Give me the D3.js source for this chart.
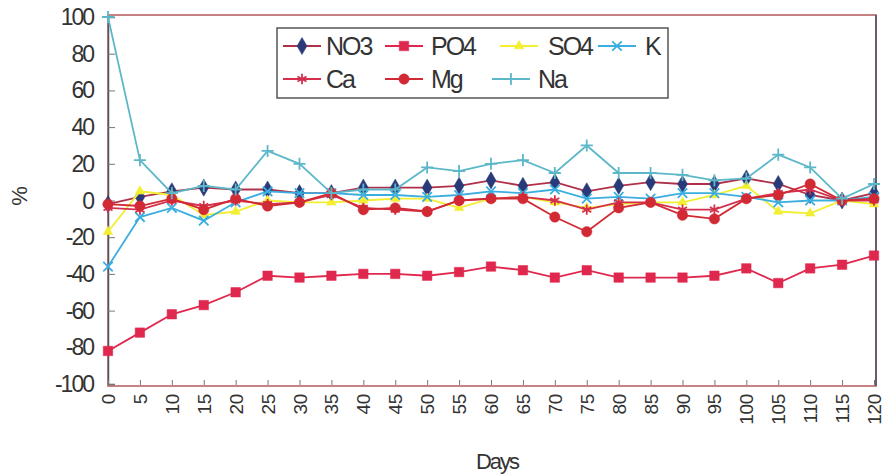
<!DOCTYPE html>
<html>
<head>
<meta charset="utf-8">
<script src="https://cdn.jsdelivr.net/npm/d3@7"></script>
<style>
  body { margin: 0; background: #fff; }
  text { font-family: "Liberation Sans", Arial, sans-serif; fill: #333; }
</style>
</head>
<body>
<svg id="chart" width="885" height="475"></svg>
<script>
// days on the x axis
const days = [0,5,10,15,20,25,30,35,40,45,50,55,60,65,70,75,80,85,90,95,100,105,110,115,120];
const yTicks = [100,80,60,40,20,0,-20,-40,-60,-80,-100];

// series, % change
const no3 = [-2,2,5,7,6,6,4,4,7,7,7,8,11,8,10,5,8,10,9,9,12,9,3,0,4];
const po4 = [-82,-72,-62,-57,-50,-41,-42,-41,-40,-40,-41,-39,-36,-38,-42,-38,-42,-42,-42,-41,-37,-45,-37,-35,-30];
const so4 = [-17,5,3,-8,-6,0,-1,-1,0,1,1,-4,1,2,-1,-4,-2,-1,-1,3,8,-6,-7,0,-2];
const kk  = [-36,-9,-4,-11,-1,5,4,4,3,3,2,3,5,4,6,1,2,1,4,4,2,-1,0,0,2];
const ca  = [-4,-5,0,-3,0,-2,-1,3,-4,-5,-6,0,1,2,0,-5,-1,-1,-5,-5,1,4,6,0,0];
const mg  = [-2,-3,1,-5,1,-3,-1,4,-5,-4,-6,0,1,1,-9,-17,-4,-1,-8,-10,1,3,9,0,1];
const na  = [100,22,4,8,6,27,20,4,6,6,18,16,20,22,15,30,15,15,14,11,12,25,18,1,9];

const series = [
  {name: "NO3", vals: no3, color: "#2a3a78", line: "#b0304a", sym: d3.symbolDiamond, size: 85, fill: true},
  {name: "PO4", vals: po4, color: "#e0284e", line: "#e0284e", sym: d3.symbolSquare, size: 90, fill: true},
  {name: "SO4", vals: so4, color: "#f2ee30", line: "#f2ee30", sym: d3.symbolTriangle, size: 40, fill: true},
  {name: "K",   vals: kk,  color: "#3aaee0", line: "#3aaee0", sym: d3.symbolTimes, size: 60, fill: false},
  {name: "Ca",  vals: ca,  color: "#d4304e", line: "#d4304e", sym: d3.symbolAsterisk, size: 75, fill: false},
  {name: "Mg",  vals: mg,  color: "#d22a34", line: "#d22a34", sym: d3.symbolCircle, size: 85, fill: true},
  {name: "Na",  vals: na,  color: "#5cb8c8", line: "#5cb8c8", sym: d3.symbolPlus, size: 50, fill: false}
];

const svg = d3.select("#chart");
const mLeft = 108, mRight = 874, mTop = 17, mBottom = 384;

const x = d3.scaleLinear().domain([0, 120]).range([mLeft, mRight]);
const y = d3.scaleLinear().domain([-100, 100]).range([mBottom, mTop]);

// frame
svg.append("rect")
  .attr("x", mLeft).attr("y", mTop - 2)
  .attr("width", mRight - mLeft + 2).attr("height", mBottom - mTop + 4)
  .attr("fill", "none").attr("stroke", "#b45a5a").attr("stroke-width", 1.5);
svg.append("line")
  .attr("x1", mRight + 2).attr("x2", mRight + 2).attr("y1", mTop - 2).attr("y2", mBottom + 2)
  .attr("stroke", "#6a5a70").attr("stroke-width", 2);

// y axis
const yAxis = svg.append("g")
  .attr("transform", `translate(${mLeft},0)`)
  .call(d3.axisRight(y).tickValues(yTicks).tickSize(7).tickFormat(""));
yAxis.select(".domain").attr("stroke", "#555").attr("stroke-width", 1.5);
yAxis.selectAll(".tick line").attr("stroke", "#777");

svg.selectAll(".ylab")
  .data(yTicks)
  .enter()
  .append("text")
  .attr("x", 93)
  .attr("y", d => y(d) + 8)
  .attr("text-anchor", "end")
  .attr("font-size", 23)
  .attr("letter-spacing", -2)
  .text(d => d);

svg.append("text")
  .attr("transform", "translate(27,196) rotate(-90)")
  .attr("text-anchor", "middle")
  .attr("font-size", 22)
  .text("%");

// x axis
const xAxis = svg.append("g")
  .attr("transform", `translate(0,${mBottom + 1})`)
  .call(d3.axisTop(x).tickValues(days).tickSize(5).tickFormat(""));
xAxis.select(".domain").remove();
xAxis.selectAll(".tick line").attr("stroke", "#777");

svg.selectAll(".xlab")
  .data(days)
  .enter()
  .append("text")
  .attr("transform", d => `translate(${x(d) + 7},${mBottom + 10}) rotate(-90)`)
  .attr("text-anchor", "end")
  .attr("font-size", 19)
  .attr("letter-spacing", -0.3)
  .text(d => d);

svg.append("text")
  .attr("x", 497).attr("y", 469)
  .attr("text-anchor", "middle")
  .attr("font-size", 22)
  .attr("letter-spacing", -2)
  .text("Days");

// lines + markers
const line = d3.line().x((d, i) => x(days[i])).y(d => y(d));

series.forEach(function(s) {
  svg.append("path")
    .datum(s.vals)
    .attr("d", line)
    .attr("fill", "none")
    .attr("stroke", s.line)
    .attr("stroke-width", 1.8);

  svg.selectAll(null)
    .data(s.vals)
    .enter()
    .append("path")
    .attr("transform", (d, i) => `translate(${x(days[i])},${y(d)})`)
    .attr("d", d3.symbol().type(s.sym).size(s.size))
    .attr("fill", s.fill ? s.color : "none")
    .attr("stroke", s.color)
    .attr("stroke-width", s.fill ? 0.5 : 1.8);
});

// legend
const legend = svg.append("g");
legend.append("rect")
  .attr("x", 277).attr("y", 28).attr("width", 391).attr("height", 70)
  .attr("fill", "#fff").attr("stroke", "#555").attr("stroke-width", 1.5);

const legPos = [
  {lx: 283, tx: 326, y: 46}, {lx: 385, tx: 431, y: 46}, {lx: 500, tx: 548, y: 46}, {lx: 598, tx: 645, y: 46},
  {lx: 283, tx: 326, y: 79}, {lx: 385, tx: 431, y: 79}, {lx: 492, tx: 538, y: 79}
];

series.forEach(function(s, i) {
  const p = legPos[i];
  legend.append("line")
    .attr("x1", p.lx).attr("x2", p.lx + 38)
    .attr("y1", p.y).attr("y2", p.y)
    .attr("stroke", s.line).attr("stroke-width", 1.8);
  legend.append("path")
    .attr("transform", `translate(${p.lx + 19},${p.y})`)
    .attr("d", d3.symbol().type(s.sym).size(s.size))
    .attr("fill", s.fill ? s.color : "none")
    .attr("stroke", s.color)
    .attr("stroke-width", s.fill ? 0.5 : 1.8);
  legend.append("text")
    .attr("x", p.tx).attr("y", p.y + 9)
    .attr("font-size", 25)
    .attr("letter-spacing", -2)
    .text(s.name);
});
</script>
</body>
</html>
